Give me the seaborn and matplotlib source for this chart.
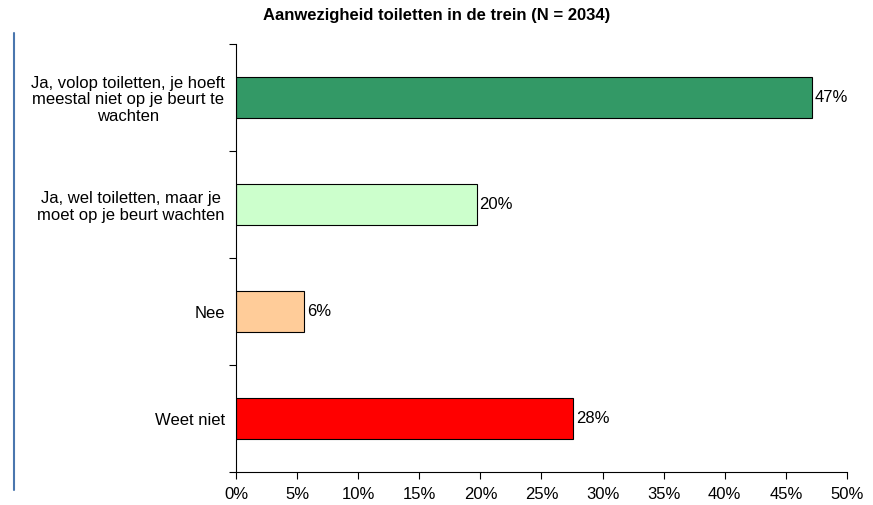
import matplotlib
matplotlib.use("Agg")
import matplotlib.pyplot as plt
import seaborn as sns
import pandas as pd
from matplotlib.lines import Line2D
from matplotlib.ticker import FixedLocator

sns.set_theme(style="white")
plt.rcParams['font.family'] = ['Liberation Sans', 'DejaVu Sans']
plt.rcParams['text.color'] = 'black'
plt.rcParams['xtick.color'] = 'black'
plt.rcParams['ytick.color'] = 'black'

# --- Data ---
categories = [
    "Ja, volop toiletten, je hoeft\nmeestal niet op je beurt te\nwachten",
    "Ja, wel toiletten, maar je\nmoet op je beurt wachten",
    "Nee",
    "Weet niet",
]
shares = [47.1, 19.7, 5.6, 27.6]
labels = ["47%", "20%", "6%", "28%"]
colors = ["#339966", "#CCFFCC", "#FFCC99", "#FF0000"]
xticks = [0, 5, 10, 15, 20, 25, 30, 35, 40, 45, 50]
title = "Aanwezigheid toiletten in de trein (N = 2034)"

df = pd.DataFrame({"cat": categories, "share": shares})

fig = plt.figure(figsize=(8.73, 5.05), dpi=100)
ax = fig.add_axes([0.2703, 0.0653, 0.6999, 0.8476])

sns.barplot(data=df, x="share", y="cat", hue="cat", palette=colors,
            order=categories, hue_order=categories, orient="h", width=0.39,
            edgecolor="black", linewidth=0.8, legend=False, ax=ax, saturation=1)

for cont, lab in zip(ax.containers, labels):
    ax.bar_label(cont, labels=[lab], padding=2, fontsize=12, color="black")

ax.set_xlim(0, 50)
ax.set_ylim(len(categories) - 0.5, -0.5)
ax.set_xticks(xticks)
ax.set_xticklabels([f"{t}%" for t in xticks], fontsize=12)

# category boundaries get the tick marks, centers get the labels
ax.yaxis.set_major_locator(FixedLocator([i - 0.5 for i in range(len(categories) + 1)]))
ax.yaxis.set_minor_locator(FixedLocator(list(range(len(categories)))))
ax.set_yticklabels([], minor=False)
ax.set_yticklabels(categories, minor=True, fontsize=12, multialignment="center",
                   linespacing=1.15)
ax.tick_params(axis="y", which="major", left=True, length=5, width=0.8, color="black")
ax.tick_params(axis="y", which="minor", left=False, length=0, pad=8)
ax.tick_params(axis="x", bottom=True, length=5, width=0.8, color="black", pad=6)

ax.set_xlabel("")
ax.set_ylabel("")
sns.despine(ax=ax)
for side in ["left", "bottom"]:
    ax.spines[side].set_color("black")
    ax.spines[side].set_linewidth(0.8)

fig.text(0.5, 0.97, title, ha="center", va="center", fontsize=12, fontweight="bold")

fig.add_artist(Line2D([0.016, 0.016], [0.03, 0.935], color="#4A76AE", linewidth=1.5,
                      transform=fig.transFigure))

fig.savefig("out.png", dpi=100)
